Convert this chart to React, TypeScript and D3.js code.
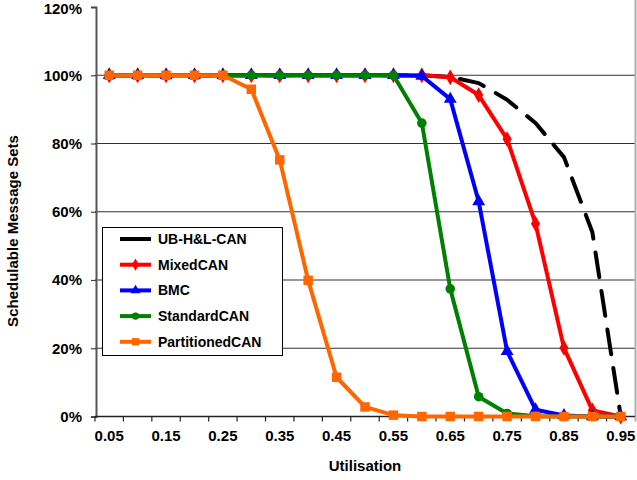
import React, { useEffect, useRef } from 'react';
import * as d3 from 'd3';

const utilisation = ["0.05", "0.10", "0.15", "0.20", "0.25", "0.30", "0.35", "0.40", "0.45", "0.50",
    "0.55", "0.60", "0.65", "0.70", "0.75", "0.80", "0.85", "0.90", "0.95"];
const xTickLabels = ["0.05", "0.15", "0.25", "0.35", "0.45", "0.55", "0.65", "0.75", "0.85", "0.95"];
const yTicks = [0, 20, 40, 60, 80, 100, 120];

const ubHLCAN = [100, 100, 100, 100, 100, 100, 100, 100, 100, 100, 100, 100, 99.5, 97.7, 92.8, 86, 76, 54, 0];
const mixedCAN = [100, 100, 100, 100, 100, 100, 100, 100, 100, 100, 100, 100, 99.4, 94.2, 81.3, 56.5, 20.1, 1.8, 0];
const bmc = [100, 100, 100, 100, 100, 100, 100, 100, 100, 100, 100, 99.8, 93, 63, 19.1, 2, 0.3, 0, 0];
const standardCAN = [100, 100, 100, 100, 100, 100, 100, 100, 100, 100, 100, 86, 37.4, 5.8, 0.9, 0.1, 0, 0, 0];
const partitionedCAN = [100, 100, 100, 100, 100, 95.9, 75.2, 39.9, 11.5, 2.8, 0.4, 0, 0, 0, 0, 0, 0, 0, 0];

const seriesNames = ["UB-H&L-CAN", "MixedCAN", "BMC", "StandardCAN", "PartitionedCAN"];

const FONT = "'Liberation Sans', Arial, sans-serif";

export default function App() {
    const ref = useRef<SVGSVGElement>(null);

    useEffect(() => {
        const width = 637;
        const height = 480;
        const margin = { top: 7, right: 2, bottom: 63, left: 95 };

        const svg = d3.select(ref.current);
        svg.selectAll("*").remove();

        const x = d3.scaleBand()
            .domain(utilisation)
            .range([margin.left, width - margin.right])
            .padding(0);

        const y = d3.scaleLinear()
            .domain([0, 120])
            .range([height - margin.bottom - 0.5, margin.top]);

        const cx = (d: string) => (x(d) as number) + x.bandwidth() / 2;

        // gridlines
        svg.append("g")
            .selectAll("line")
            .data(yTicks.filter(t => t > 0 && t < 120))
            .enter().append("line")
            .attr("x1", margin.left)
            .attr("x2", width - margin.right)
            .attr("y1", d => y(d))
            .attr("y2", d => y(d))
            .attr("stroke", "#333")
            .attr("stroke-width", 1.2);

        // right border
        svg.append("line")
            .attr("x1", width - margin.right + 0.5)
            .attr("x2", width - margin.right + 0.5)
            .attr("y1", 0)
            .attr("y2", y(0) + 5)
            .attr("stroke", "#b0b0b0")
            .attr("stroke-width", 2);

        // y axis
        const yAxis = d3.axisLeft(y)
            .tickValues(yTicks)
            .tickSize(5)
            .tickPadding(9)
            .tickFormat(d => `${d}%`);
        const yg = svg.append("g")
            .attr("transform", `translate(${margin.left + 1},0)`)
            .call(yAxis);
        yg.select(".domain").attr("stroke", "#555").attr("stroke-width", 2);
        yg.selectAll(".tick line").attr("stroke", "#444").attr("stroke-width", 1.2);
        yg.selectAll(".tick text")
            .attr("font-family", FONT)
            .attr("font-size", 15)
            .attr("font-weight", "bold")
            .attr("fill", "#000");
        // keep the top label inside the picture
        yg.selectAll(".tick text").filter(d => d === 120).attr("dy", "0.42em");

        // x axis: ticks between categories, label on every other one
        const xg = svg.append("g");
        xg.append("line")
            .attr("x1", margin.left)
            .attr("x2", width - margin.right)
            .attr("y1", y(0))
            .attr("y2", y(0))
            .attr("stroke", "#222")
            .attr("stroke-width", 1.5);
        xg.selectAll("line.tick")
            .data(utilisation)
            .enter().append("line")
            .attr("class", "tick")
            .attr("x1", d => x(d) as number)
            .attr("x2", d => x(d) as number)
            .attr("y1", y(0))
            .attr("y2", y(0) + 5)
            .attr("stroke", "#222")
            .attr("stroke-width", 1.2);
        xg.selectAll("text")
            .data(xTickLabels)
            .enter().append("text")
            .attr("x", d => cx(d))
            .attr("y", y(0) + 24)
            .attr("text-anchor", "middle")
            .attr("font-family", FONT)
            .attr("font-size", 15)
            .attr("font-weight", "bold")
            .text(d => d);

        // axis titles
        svg.append("text")
            .attr("x", (margin.left + width - margin.right) / 2)
            .attr("y", 471)
            .attr("text-anchor", "middle")
            .attr("font-family", FONT)
            .attr("font-size", 15)
            .attr("font-weight", "bold")
            .text("Utilisation");

        svg.append("text")
            .attr("transform", "translate(18,231) rotate(-90)")
            .attr("text-anchor", "middle")
            .attr("font-family", FONT)
            .attr("font-size", 15)
            .attr("font-weight", "bold")
            .text("Schedulable Message Sets");

        const line = d3.line<number>()
            .x((d, i) => cx(utilisation[i]))
            .y(d => y(d));

        const series = [
            { name: seriesNames[0], values: ubHLCAN, color: "#000000", symbol: null, size: 0, dash: "25,14" },
            { name: seriesNames[1], values: mixedCAN, color: "#FF0000", symbol: d3.symbolDiamond, size: 72, dash: null },
            { name: seriesNames[2], values: bmc, color: "#0000FF", symbol: d3.symbolTriangle, size: 72, dash: null },
            { name: seriesNames[3], values: standardCAN, color: "#008000", symbol: d3.symbolCircle, size: 72, dash: null },
            { name: seriesNames[4], values: partitionedCAN, color: "#FF6600", symbol: d3.symbolSquare, size: 90, dash: null },
        ];

        series.forEach(s => {
            const g = svg.append("g");
            g.append("path")
                .attr("d", line(s.values))
                .attr("fill", "none")
                .attr("stroke", s.color)
                .attr("stroke-width", 4)
                .attr("stroke-linejoin", "round")
                .attr("stroke-linecap", s.dash ? "round" : "butt")
                .attr("stroke-dasharray", s.dash);
            if (s.symbol) {
                g.selectAll("path.mark")
                    .data(s.values)
                    .enter().append("path")
                    .attr("class", "mark")
                    .attr("d", d3.symbol().type(s.symbol).size(s.size)())
                    .attr("transform", (d, i) => `translate(${cx(utilisation[i])},${y(d)})`)
                    .attr("fill", s.color);
            }
        });

        // legend
        const legend = svg.append("g").attr("transform", "translate(102,227)");
        legend.append("rect")
            .attr("x", 0.5)
            .attr("y", 0.5)
            .attr("width", 180)
            .attr("height", 128)
            .attr("fill", "#fff")
            .attr("stroke", "#000")
            .attr("stroke-width", 1);

        const items = legend.selectAll("g.item")
            .data(series)
            .enter().append("g")
            .attr("class", "item")
            .attr("transform", (d, i) => `translate(0,${12 + i * 25.7})`);

        items.append("line")
            .attr("x1", 18)
            .attr("x2", 49)
            .attr("stroke", d => d.color)
            .attr("stroke-width", 4);

        items.filter(d => d.symbol !== null)
            .append("path")
            .attr("d", d => d3.symbol().type(d.symbol as d3.SymbolType).size(d.size * 0.6)())
            .attr("transform", "translate(33.5,0)")
            .attr("fill", d => d.color);

        items.append("text")
            .attr("x", 56)
            .attr("dy", "0.36em")
            .attr("font-family", FONT)
            .attr("font-size", 14)
            .attr("font-weight", "bold")
            .text(d => d.name);
    }, []);

    return (
        <svg ref={ref} width={637} height={480}
            style={{ position: "absolute", left: 0, top: 0, background: "#fff" }} />
    );
}
